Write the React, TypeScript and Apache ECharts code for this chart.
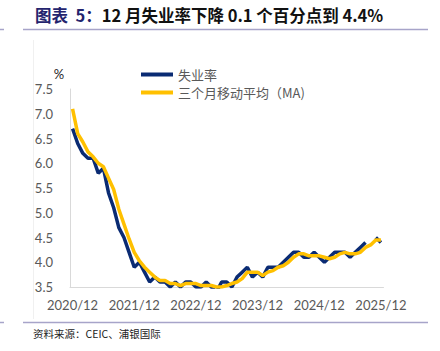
import React, { useEffect, useRef } from "react";
import * as echarts from "echarts";

const categories: string[] = [
  "2020/12",
  "2021/01", "2021/02", "2021/03", "2021/04", "2021/05", "2021/06", "2021/07", "2021/08", "2021/09", "2021/10", "2021/11", "2021/12",
  "2022/01", "2022/02", "2022/03", "2022/04", "2022/05", "2022/06", "2022/07", "2022/08", "2022/09", "2022/10", "2022/11", "2022/12",
  "2023/01", "2023/02", "2023/03", "2023/04", "2023/05", "2023/06", "2023/07", "2023/08", "2023/09", "2023/10", "2023/11", "2023/12",
  "2024/01", "2024/02", "2024/03", "2024/04", "2024/05", "2024/06", "2024/07", "2024/08", "2024/09", "2024/10", "2024/11", "2024/12",
  "2025/01", "2025/02", "2025/03", "2025/04", "2025/05", "2025/06", "2025/07", "2025/08", "2025/09", "2025/10", "2025/11", "2025/12",
];

const unemployment: (number | null)[] = [
  6.7,
  6.4, 6.2, 6.1, 6.1, 5.8, 5.9, 5.4, 5.1, 4.7, 4.5, 4.2, 3.9,
  4.0, 3.8, 3.6, 3.7, 3.6, 3.6, 3.5, 3.6, 3.5, 3.6, 3.6, 3.5,
  3.5, 3.6, 3.5, 3.4, 3.6, 3.6, 3.5, 3.7, 3.8, 3.9, 3.7, 3.8,
  3.7, 3.9, 3.9, 3.9, 4.0, 4.1, 4.2, 4.2, 4.1, 4.1, 4.2, 4.1,
  4.0, 4.1, 4.2, 4.2, 4.2, 4.1, 4.2, 4.3, 4.4, null, 4.5, 4.4,
];

const movingAvg: number[] = [
  7.1,
  6.6, 6.43, 6.23, 6.13, 6.0, 5.93, 5.7, 5.47, 5.07, 4.77, 4.47, 4.2,
  4.03, 3.9, 3.8, 3.7, 3.63, 3.63, 3.57, 3.57, 3.53, 3.57, 3.57, 3.57,
  3.53, 3.53, 3.53, 3.5, 3.5, 3.53, 3.57, 3.6, 3.67, 3.8, 3.8, 3.8,
  3.73, 3.8, 3.83, 3.9, 3.93, 4.0, 4.1, 4.17, 4.17, 4.13, 4.13, 4.13,
  4.1, 4.07, 4.1, 4.17, 4.2, 4.17, 4.17, 4.2, 4.3, 4.35, 4.45, 4.45,
];

const seriesNames = ["失业率", "三个月移动平均（MA)"];
const titleLead = "图表  5：";
const titleMain = "12 月失业率下降 0.1 个百分点到 4.4%";
const sourceText = "资料来源：CEIC、浦银国际";
const yUnit = "%";

const CJK = "'Noto Sans CJK SC', 'Noto Sans', sans-serif";
const LATIN = "Lato, 'Liberation Sans', sans-serif";

export default function App() {
  const ref = useRef<HTMLDivElement>(null);

  useEffect(() => {
    if (!ref.current) return;
    const chart = echarts.init(ref.current, null, { renderer: "svg" });
    const ruleColor = "#A7A4C9";
    chart.setOption({
      animation: false,
      backgroundColor: "#ffffff",
      grid: { left: 70, top: 89, width: 313.5, height: 198, containLabel: false },
      legend: {
        orient: "vertical",
        left: 136,
        top: 63,
        itemWidth: 32,
        itemHeight: 4,
        itemGap: 5,
        icon: "rect",
        data: seriesNames,
        textStyle: { color: "#595959", fontSize: 13, fontFamily: CJK },
      },
      xAxis: {
        type: "category",
        data: categories,
        boundaryGap: true,
        axisTick: { show: false },
        axisLine: { lineStyle: { color: "#D9D9D9", width: 1 } },
        axisLabel: {
          interval: 11,
          color: "#595959",
          fontSize: 13,
          fontFamily: LATIN,
          margin: 11,
        },
      },
      yAxis: {
        type: "value",
        min: 3.5,
        max: 7.5,
        interval: 0.5,
        axisLine: { show: true, lineStyle: { color: "#D9D9D9", width: 1 } },
        axisTick: { show: false },
        splitLine: { show: false },
        axisLabel: {
          color: "#595959",
          fontSize: 13,
          fontFamily: LATIN,
          margin: 17,
          formatter: (v: number) => v.toFixed(1),
        },
      },
      series: [
        {
          name: seriesNames[0],
          type: "line",
          data: unemployment,
          symbol: "none",
          connectNulls: false,
          clip: true,
          lineStyle: { color: "#0A2B73", width: 3.5 },
          itemStyle: { color: "#0A2B73" },
        },
        {
          name: seriesNames[1],
          type: "line",
          data: movingAvg,
          symbol: "none",
          clip: true,
          lineStyle: { color: "#FFC000", width: 3.5 },
          itemStyle: { color: "#FFC000" },
        },
      ],
      graphic: [
        {
          type: "text",
          style: {
            x: 35,
            y: 15,
            text: "{a|" + titleLead + "}{b|" + titleMain + "}",
            verticalAlign: "middle",
            rich: {
              a: { fontSize: 16.5, fontWeight: "bold", fill: "#24246E", fontFamily: CJK },
              b: { fontSize: 16.5, fontWeight: "bold", fill: "#111111", fontFamily: CJK },
            },
          },
        },
        { type: "line", shape: { x1: 0, y1: 29.5, x2: 4, y2: 29.5 }, style: { stroke: ruleColor, lineWidth: 1.5 } },
        { type: "line", shape: { x1: 23, y1: 29.5, x2: 428, y2: 29.5 }, style: { stroke: ruleColor, lineWidth: 1.5 } },
        { type: "line", shape: { x1: 0, y1: 322.5, x2: 4, y2: 322.5 }, style: { stroke: ruleColor, lineWidth: 1.5 } },
        { type: "line", shape: { x1: 23, y1: 322.5, x2: 428, y2: 322.5 }, style: { stroke: ruleColor, lineWidth: 1.5 } },
        { type: "line", shape: { x1: 33.5, y1: 40, x2: 33.5, y2: 319 }, style: { stroke: "#F0F0F0", lineWidth: 1 } },
        {
          type: "text",
          style: {
            x: 59,
            y: 74,
            text: yUnit,
            align: "center",
            verticalAlign: "middle",
            fontSize: 13,
            fill: "#262626",
            fontFamily: LATIN,
          },
        },
        {
          type: "text",
          style: {
            x: 33,
            y: 333,
            text: sourceText,
            verticalAlign: "middle",
            fontSize: 10.5,
            fill: "#222222",
            fontFamily: CJK,
          },
        },
      ],
    });
    return () => chart.dispose();
  }, []);

  return (
    <div
      ref={ref}
      style={{ position: "absolute", left: 0, top: 0, width: 440, height: 351 }}
    />
  );
}
